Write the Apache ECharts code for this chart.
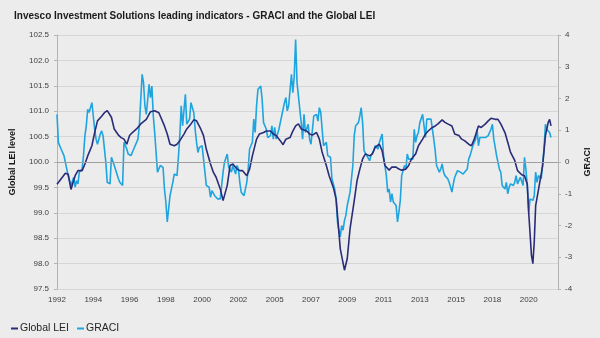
<!DOCTYPE html>
<html>
<head>
<meta charset="utf-8">
<script src="https://cdn.jsdelivr.net/npm/echarts@6/dist/echarts.min.js"></script>
<style>
html,body{margin:0;padding:0;background:#ececec;}
#chart{width:600px;height:338px;}
</style>
</head>
<body>
<div id="chart"></div>
<script>
// x positions are months since Jan 1992
var xTickLabels = ['1992','1994','1996','1998','2000','2002','2005','2007','2009','2011','2013','2015','2018','2020'];
var lastMonthIndex = 359;

var leiMonths = [0,6,8,10,13,15,18,20,22,25,27,29,32,34,36,39,41,44,46,48,50,52,54,57,60,64,67,70,73,
  77,79,81,84,86,88,91,93,96,98,100,103,105,107,110,112,114,117,119,122,124,126,129,131,133,136,138,140,143,
  145,148,150,153,155,157,160,162,164,167,169,171,173,175,179,181,183,186,188,190,193,195,198,200,201,203,206,208,210,
  213,215,217,219,221,224,226,228,231,233,235,238,240,243,245,247,250,252,254,257,259,262,264,266,269,271,273,276,278,280,
  283,285,288,290,292,295,297,299,302,304,307,309,311,314,316,318,321,323,325,328,330,333,335,337,338,340,341,342,343,346,348,350,352,353,354];
var leiValues = [99.56,99.78,99.76,99.46,99.73,99.83,99.83,99.96,100.12,100.32,100.58,100.81,100.90,100.97,101.01,100.88,100.65,100.53,100.48,100.45,100.35,100.52,100.58,100.65,100.75,100.84,100.99,101.01,100.97,
  100.71,100.55,100.35,100.32,100.35,100.42,100.55,100.65,100.75,100.83,100.81,100.65,100.52,100.25,99.96,99.80,99.70,99.47,99.24,99.54,99.93,99.96,99.86,99.83,99.83,99.73,99.86,100.12,100.45,
  100.55,100.58,100.61,100.61,100.55,100.52,100.42,100.34,100.45,100.48,100.61,100.71,100.75,100.65,100.61,100.55,100.53,100.58,100.45,100.19,99.93,99.73,99.50,99.27,98.95,98.29,97.87,98.10,98.69,
  99.24,99.63,99.86,100.06,100.16,100.12,100.16,100.29,100.35,100.22,99.93,99.84,99.90,99.90,99.86,99.84,99.86,99.93,100.06,100.16,100.32,100.45,100.55,100.61,100.68,100.71,100.75,100.83,100.78,100.75,
  100.71,100.55,100.52,100.45,100.42,100.35,100.32,100.45,100.71,100.68,100.75,100.81,100.86,100.84,100.84,100.75,100.58,100.39,100.19,100.03,99.83,99.75,99.73,99.56,99.01,98.16,98.00,98.43,99.14,99.61,99.93,100.52,100.78,100.84,100.71];

var graciMonths = [0,1,3,5,6,8,9,10,12,13,14,15,16,18,19,20,21,22,23,25,26,27,28,29,31,32,33,35,36,38,39,41,44,45,47,48,50,51,53,55,58,59,61,62,63,64,66,67,68,69,70,72,
  73,74,76,77,78,79,80,81,83,84,86,87,88,89,90,92,93,95,96,98,99,100,101,102,104,105,106,107,109,110,111,112,113,115,116,117,118,119,120,122,123,124,125,126,128,129,130,131,132,134,135,136,137,138,140,141,142,
  143,144,146,147,148,149,150,151,153,154,155,156,157,159,161,163,164,165,166,168,169,170,171,172,174,175,176,177,178,180,181,182,183,184,186,187,188,189,190,191,193,194,195,196,197,199,200,201,202,203,204,205,206,207,208,210,211,212,213,214,
  216,217,218,219,220,221,222,224,225,226,227,228,230,231,232,233,234,236,237,238,239,240,241,243,244,245,246,247,249,250,251,252,253,255,256,257,258,259,260,262,263,264,265,266,268,269,270,271,272,274,275,276,277,278,280,281,282,
  283,284,285,287,288,289,290,291,292,294,295,296,297,298,300,301,302,303,304,307,309,311,312,313,315,316,317,318,319,321,322,323,324,325,327,328,329,330,331,332,334,335,336,337,338,339,341,342,343,344,345,347,348,349,350,351,353,354];
var graciValues = [1.50,0.61,0.40,0.20,-0.01,-0.43,-0.48,-0.74,-0.48,-0.79,-0.59,-0.69,-0.32,-0.22,0.20,0.83,1.14,1.66,1.56,1.87,1.45,1.03,0.72,0.56,0.88,0.98,0.83,-0.01,-0.64,-0.69,0.15,-0.10,-0.53,-0.64,-0.74,0.62,0.41,0.25,0.20,0.41,0.72,1.14,2.76,2.50,1.77,1.50,2.45,2.03,2.39,1.45,0.93,-0.32,
  -0.38,-0.11,-0.17,-0.85,-1.26,-1.89,-1.84,-1.06,-0.64,-0.38,-0.43,0.15,0.83,1.77,1.14,2.13,1.19,1.35,1.87,1.56,1.03,0.62,0.30,0.46,0.51,0.09,-0.32,-0.74,-0.79,-1.11,-0.90,-0.95,-1.06,-1.16,-1.11,-1.16,-0.74,-0.32,-0.01,0.25,-0.17,-0.22,-0.32,-0.11,-0.38,-0.11,-0.22,-0.64,-0.95,-1.06,-1.11,-0.64,-0.22,0.41,0.62,1.35,0.93,
  1.77,2.29,2.39,1.97,1.24,1.14,1.03,0.77,0.83,1.14,0.72,1.09,0.72,1.03,1.45,1.87,2.03,1.61,1.77,2.76,2.18,2.71,3.86,2.50,1.66,1.24,0.72,1.50,0.93,1.19,0.72,0.56,0.51,1.45,1.50,1.29,1.71,1.56,1.03,0.51,0.62,0.20,0.15,0.15,-0.53,-0.85,-1.16,-1.89,-2.15,-2.36,-2.00,-2.15,-1.84,-1.68,-1.37,-0.95,-0.90,-0.11,0.83,1.14,
  1.24,1.45,1.71,1.24,0.36,0.30,0.20,0.04,0.20,0.15,0.36,0.51,0.41,0.62,0.67,0.88,0.20,-0.43,-0.95,-0.85,-1.26,-1.00,-1.26,-1.37,-1.89,-1.58,-1.21,-0.43,-0.11,-0.22,0.25,0.09,0.15,0.09,1.03,0.62,0.83,0.93,1.24,1.50,1.14,0.77,1.35,1.30,1.35,1.35,0.72,0.36,-0.11,-0.32,-0.22,-0.06,-0.32,-0.43,-0.53,-0.64,-0.79,
  -0.95,-0.69,-0.48,-0.27,-0.22,-0.32,-0.32,-0.38,-0.32,-0.22,0.09,0.20,0.15,0.51,0.72,1.03,0.51,0.77,0.77,0.77,0.83,1.03,1.19,0.72,0.20,-0.01,-0.22,-0.32,-0.74,-0.85,-0.64,-1.00,-0.79,-0.69,-0.74,-0.64,-0.43,-0.69,-0.74,-0.48,-0.74,0.15,-0.22,-0.74,-1.58,-1.16,-1.21,-1.06,-0.32,-0.64,-0.43,-0.53,-0.53,0.41,1.19,1.03,0.93,0.77];

function pairs(xs, ys){ return xs.map(function(x,i){ return [x, ys[i]]; }); }

var chart = echarts.init(document.getElementById('chart'), null, {renderer:'canvas'});
var font = 'Liberation Sans, Arial, sans-serif';
chart.setOption({
  backgroundColor: '#ececec',
  animation: false,
  title: {
    text: 'Invesco Investment Solutions leading indicators - GRACI and the Global LEI',
    left: 9, top: 6,
    textStyle: {fontFamily: font, fontSize: 10, fontWeight: 'bold', color: '#1a1a1a'}
  },
  legend: {
    left: 6, top: 318,
    itemWidth: 7, itemHeight: 2, itemGap: 8,
    icon: 'rect',
    textStyle: {fontFamily: font, fontSize: 10.5, color: '#262626', padding: [0,0,0,-3]},
    data: ['Global LEI', 'GRACI']
  },
  grid: {left: 57, right: 38, top: 35, bottom: 49},
  xAxis: {
    type: 'value', min: 0, max: lastMonthIndex, interval: 26,
    axisLine: {show: false}, axisTick: {show: false}, splitLine: {show: false},
    axisLabel: {
      showMaxLabel: false, margin: 7,
      fontFamily: font, fontSize: 8, color: '#404040',
      formatter: function(v){ return xTickLabels[Math.round(v/26)] || ''; }
    }
  },
  yAxis: [{
    type: 'value', min: 97.5, max: 102.5, interval: 0.5,
    name: 'Global LEI level', nameLocation: 'middle', nameGap: 40, nameRotate: 90,
    nameTextStyle: {fontFamily: font, fontSize: 9, fontWeight: 'bold', color: '#1a1a1a'},
    axisLine: {show: true, lineStyle: {color: '#b3b3b3'}},
    axisTick: {show: true, length: 3, lineStyle: {color: '#b3b3b3'}},
    axisLabel: {fontFamily: font, fontSize: 8, color: '#404040', margin: 8,
      formatter: function(v){ return v.toFixed(1); }},
    splitLine: {show: true, lineStyle: {color: '#d6d6d6', width: 1}}
  }, {
    type: 'value', min: -4, max: 4, interval: 1,
    name: 'GRACI', nameLocation: 'middle', nameGap: 24, nameRotate: 90,
    nameTextStyle: {fontFamily: font, fontSize: 9, fontWeight: 'bold', color: '#1a1a1a'},
    axisLine: {show: true, lineStyle: {color: '#b3b3b3'}},
    axisTick: {show: true, length: 3, lineStyle: {color: '#b3b3b3'}},
    axisLabel: {fontFamily: font, fontSize: 8, color: '#404040', margin: 7},
    splitLine: {show: false}
  }],
  series: [{
    name: 'Global LEI', type: 'line', yAxisIndex: 0,
    data: pairs(leiMonths, leiValues),
    showSymbol: false, smooth: false,
    lineStyle: {color: '#2a2c78', width: 1.6},
    itemStyle: {color: '#2a2c78'},
    z: 3,
    markLine: {
      silent: true, symbol: 'none', label: {show: false},
      lineStyle: {color: '#a0a0a0', width: 1, type: 'solid'},
      data: [{yAxis: 100}]
    }
  }, {
    name: 'GRACI', type: 'line', yAxisIndex: 1,
    data: pairs(graciMonths, graciValues),
    showSymbol: false, smooth: false,
    lineStyle: {color: '#1ea4de', width: 1.6},
    itemStyle: {color: '#1ea4de'},
    z: 2
  }]
});
</script>
</body>
</html>
